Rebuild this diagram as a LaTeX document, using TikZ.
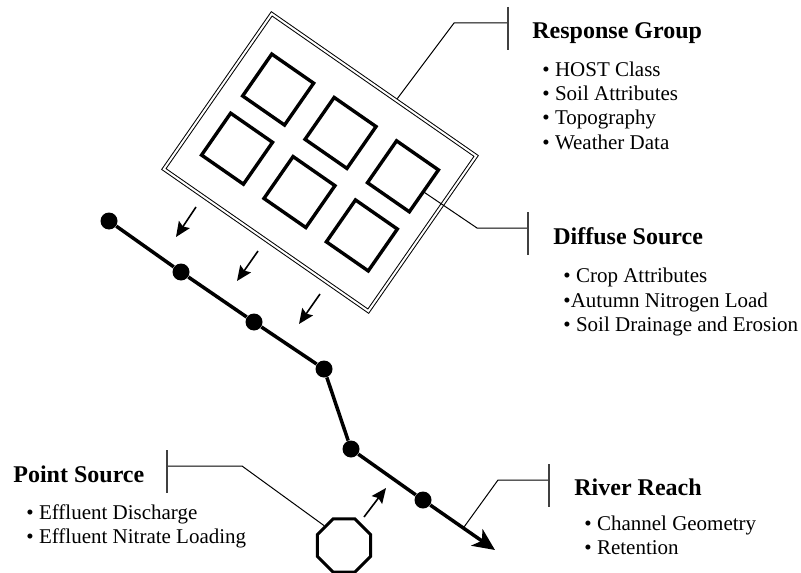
\documentclass[tikz,border=0pt]{standalone}
\usepackage{fontspec}
\setmainfont{Liberation Serif}
\usetikzlibrary{arrows.meta,calc,shapes.geometric}

\tikzset{
  dot/.style={circle,fill=black,inner sep=0pt,minimum size=8.5pt},
  river/.style={line width=1.75pt,-{Stealth[length=11pt,width=10pt,inset=3pt]}},
  flow/.style={line width=0.8pt,-{Stealth[length=7.5pt,width=6.5pt,inset=1.2pt]}},
  leader/.style={line width=0.5pt},
  tick/.style={line width=0.7pt,black!75},
  plot/.style={line width=1.7pt},
  heading/.style={font=\fontsize{12}{14}\selectfont\bfseries,anchor=base west,inner sep=0pt},
  item/.style={font=\fontsize{10.5}{12}\selectfont,anchor=base west,inner sep=0pt},
}

\begin{document}
\begin{tikzpicture}[x=0.5pt,y=-0.5pt]
\useasboundingbox (0,0) rectangle (801,572);
% catchment and response groups
\begin{scope}[shift={(320,162.5)},rotate=-34.8]
\draw[line width=0.5pt,double,double distance=1pt] (-124.5,-94.5) rectangle (124.5,94.5);
\draw[plot] (-101.5,-61.5) rectangle (-50.5,-10.5);
\draw[plot] (-25.5,-61.5) rectangle (25.5,-10.5);
\draw[plot] (50.5,-61.5) rectangle (101.5,-10.5);
\draw[plot] (-101.5,10.5) rectangle (-50.5,61.5);
\draw[plot] (-25.5,10.5) rectangle (25.5,61.5);
\draw[plot] (50.5,10.5) rectangle (101.5,61.5);
\coordinate (rgPin) at (27,-96.5);
\coordinate (dsPin) at (101.5,-35);
\end{scope}
% diffuse inputs
\coordinate (a1) at (196,207);
\coordinate (a2) at (258,251);
\coordinate (a3) at (320,294);
\draw[flow] (a1) -- ++(-20,30);
\draw[flow] (a2) -- ++(-21,30);
\draw[flow] (a3) -- ++(-21,30);
% river reach
\node[dot] (d1) at (109,221) {};
\node[dot] (d2) at (181,272) {};
\node[dot] (d3) at (254,322) {};
\node[dot] (d4) at (324,369) {};
\node[dot] (d5) at (351,449) {};
\node[dot] (d6) at (423,500) {};
\coordinate (tip) at (495,550);
\draw[river] (d1) -- (d2) -- (d3) -- (d4) -- (d5) -- (d6) -- (tip);
% point source
\node[draw,regular polygon,regular polygon sides=8,minimum size=28.7pt,inner sep=0pt,line width=1.5pt] (oct) at (344,545.5) {};
\coordinate (pa) at (364,517);
\draw[flow] (pa) -- ++(22,-29);
% response group label
\coordinate (rgKnee) at (454,23);
\coordinate (rgBar) at (508,23);
\draw[leader] (rgPin) -- (rgKnee) -- (rgBar);
\draw[tick] (rgBar) ++(0,-16) -- ++(0,43);
\node[heading] (rgHead) at (532,39) {Response Group};
\node[item] (rg1) at (542,77) {• HOST Class};
\node[item] (rg2) at (542,101) {• Soil Attributes};
\node[item] (rg3) at (542,125) {• Topography};
\node[item] (rg4) at (542,149) {• Weather Data};
% diffuse source label
\coordinate (dsKnee) at (477,228);
\coordinate (dsBar) at (528,228);
\draw[leader] (dsPin) -- (dsKnee) -- (dsBar);
\draw[tick] (dsBar) ++(0,-16) -- ++(0,43);
\node[heading] (dsHead) at (553,244) {Diffuse Source};
\node[item] (ds1) at (563,282) {• Crop Attributes};
\node[item] (ds2) at (563,307) {•Autumn Nitrogen Load};
\node[item] (ds3) at (563,331) {• Soil Drainage and Erosion};
% river reach label
\coordinate (rrPin) at ($(d6)!0.56!(tip)$);
\coordinate (rrKnee) at (498,480);
\coordinate (rrBar) at (549,480);
\draw[leader] (rrPin) -- (rrKnee) -- (rrBar);
\draw[tick] (rrBar) ++(0,-16) -- ++(0,43);
\node[heading] (rrHead) at (574,495) {River Reach};
\node[item] (rr1) at (584,530) {• Channel Geometry};
\node[item] (rr2) at (584,554) {• Retention};
% point source label
\coordinate (psBar) at (167,466);
\coordinate (psKnee) at (242,466);
\draw[leader] (psBar) -- (psKnee) -- (oct.135);
\draw[tick] (psBar) ++(0,-16) -- ++(0,43);
\node[heading] (psHead) at (13,482) {Point Source};
\node[item] (ps1) at (26,519) {• Effluent Discharge};
\node[item] (ps2) at (26,543) {• Effluent Nitrate Loading};
\end{tikzpicture}
\end{document}
